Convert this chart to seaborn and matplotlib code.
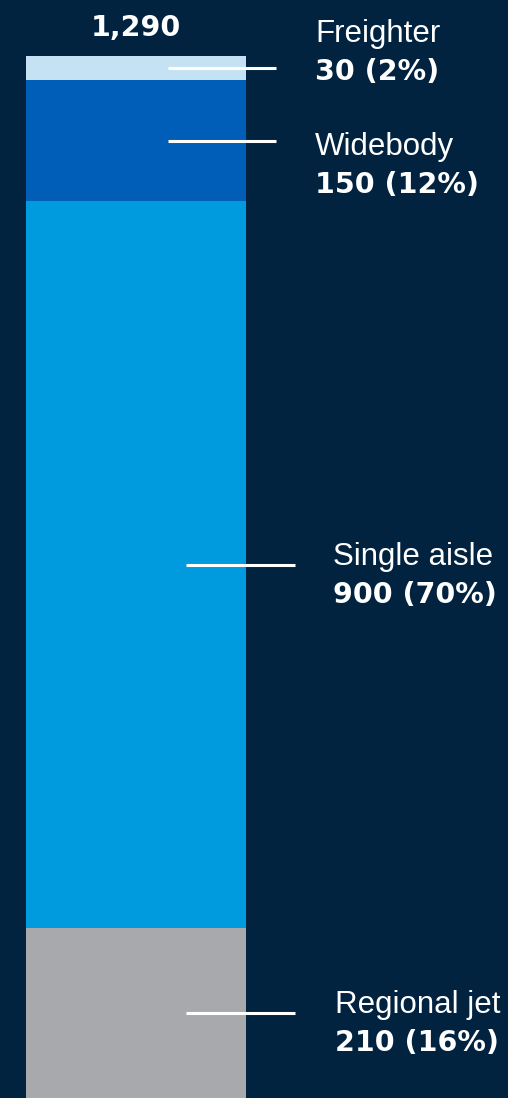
import numpy as np
import pandas as pd
import matplotlib
matplotlib.use("Agg")
import matplotlib.pyplot as plt
import seaborn as sns

# data
categories = ["Regional jet", "Single aisle", "Widebody", "Freighter"]
values = [210, 900, 150, 30]
shares = ["16%", "70%", "12%", "2%"]
total_label = "1,290"
colors = ["#a7a9ac", "#009ade", "#005eb8", "#c5e2f5"]

BG = "#01233f"
W, H = 508, 1098

sns.set_theme(style="white")

fig = plt.figure(figsize=(W / 100, H / 100), dpi=100)
fig.patch.set_facecolor(BG)
ax = fig.add_axes([0, 0, 1, 1])
ax.set_facecolor(BG)

# stacked bar: draw cumulative totals, tallest first
cum = np.cumsum(values)
for cat, top, col in reversed(list(zip(categories, cum, colors))):
    df = pd.DataFrame({"group": ["fleet"], "value": [top]})
    sns.barplot(data=df, x="group", y="value", color=col, width=1,
                saturation=1, linewidth=0, ax=ax)

# pixel layout -> data coords
bar_left, bar_right = 26, 246
top_px, bottom_px = 56, 1098
total = cum[-1]
ppu = (bottom_px - top_px) / total
ymax = total + top_px / ppu
xpu = bar_right - bar_left
ax.set_xlim(-0.5 - bar_left / xpu, 0.5 + (W - bar_right) / xpu)
ax.set_ylim(0, ymax)


def px_x(px):
    return -0.5 + (px - bar_left) / xpu


def px_y(py):
    return ymax - py / ppu


# leader line x-extents and label positions (pixels)
line_x = [(186, 295), (186, 295), (168, 276), (168, 276)]
text_x = [335, 333, 315, 315]
name_base = [1013, 565, 155, 42]

name_font = dict(family="Liberation Sans", fontsize=22.5, color="white")
val_font = dict(family="DejaVu Sans", fontweight="bold", fontsize=20.5, color="white")

for i, cat in enumerate(categories):
    mid = cum[i] - values[i] / 2
    ax.plot([px_x(line_x[i][0]), px_x(line_x[i][1])], [mid, mid],
            color="white", lw=2.2, solid_capstyle="butt")
    ax.text(px_x(text_x[i]), px_y(name_base[i]), cat, va="baseline", ha="left", **name_font)
    ax.text(px_x(text_x[i]), px_y(name_base[i] + 38), f"{values[i]} ({shares[i]})",
            va="baseline", ha="left", **val_font)

ax.text(0, px_y(36), total_label, ha="center", va="baseline", **val_font)

ax.axis("off")
fig.savefig("out.png", dpi=100, facecolor=BG)
